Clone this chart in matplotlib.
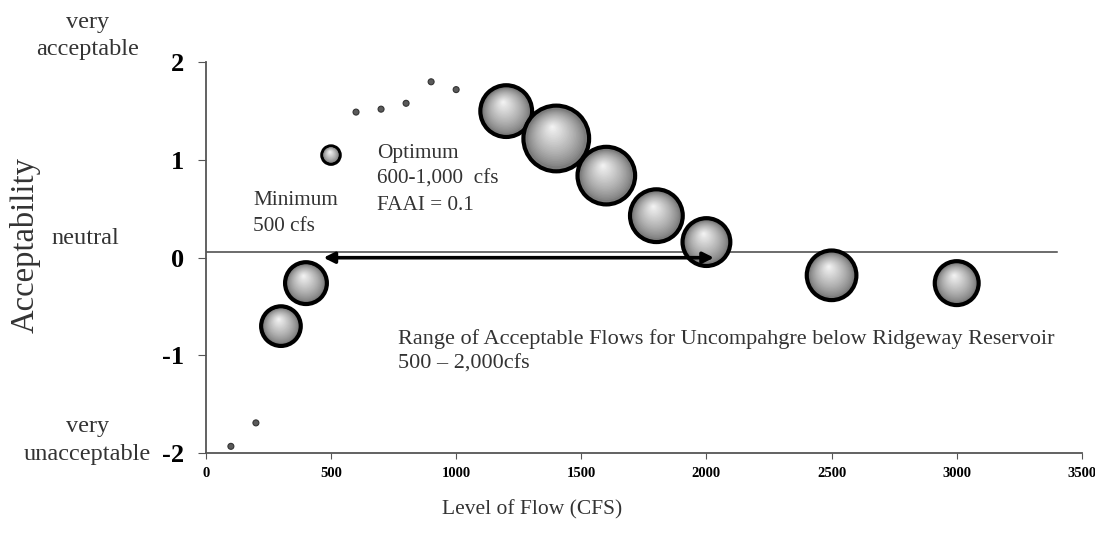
import numpy as np
import matplotlib
matplotlib.use("Agg")
import matplotlib.pyplot as plt
from matplotlib.colors import to_rgb

plt.rcParams['font.family'] = ['Liberation Serif', 'DejaVu Serif']
plt.rcParams['axes.unicode_minus'] = False

# flow levels (cfs), mean acceptability and bubble weight (number of responses)
flow = [100, 200, 300, 400, 500, 600, 700, 800, 900, 1000, 1200, 1400, 1600, 1800, 2000, 2500, 3000]
acceptability = [-1.93, -1.69, -0.70, -0.26, 1.05, 1.49, 1.52, 1.58, 1.80, 1.72,
                 1.50, 1.22, 0.84, 0.43, 0.16, -0.18, -0.26]
weight = [1, 1, 44, 49, 9, 1, 1, 1, 1, 1, 75, 121, 93, 78, 64, 69, 54]

x_ticks = [0, 500, 1000, 1500, 2000, 2500, 3000, 3500]
y_ticks = [-2, -1, 0, 1, 2]

fig, ax = plt.subplots(figsize=(10.95, 5.46), dpi=100)
fig.subplots_adjust(left=0.188, right=0.988, bottom=0.170, top=0.886)
ax.set_xlim(0, 3500)
ax.set_ylim(-2, 2)

x = np.array(flow, dtype=float)
y = np.array(acceptability)
w = np.array(weight, dtype=float)
sizes = w * 18.5
big = w > 5
lws = np.where(w > 20, 3.0, np.where(big, 2.6, 0.8))
faces = np.where(big, '#7c7c7c', '#5a5a5a')
edges = np.where(big, 'black', '#333333')

# base spheres
ax.scatter(x, y, s=sizes, c=list(faces), edgecolors=list(edges), linewidths=lws, zorder=3)

# fake 3-D shading: shrinking lighter discs drifting to the highlight
px_x = ax.transData.transform((1, 0))[0] - ax.transData.transform((0, 0))[0]
px_y = ax.transData.transform((0, 1))[1] - ax.transData.transform((0, 0))[1]
r_px = np.sqrt(sizes) / 2 * fig.dpi / 72
dark = np.array(to_rgb('#7c7c7c'))
light = np.array(to_rgb('#f6f6f6'))
n_layers = 24
for i in range(1, n_layers):
    f = 1 - i / n_layers
    col = dark + (light - dark) * (1 - f) ** 0.8
    dx = -0.12 * r_px * (1 - f) / px_x
    dy = 0.36 * r_px * (1 - f) / px_y
    ax.scatter(x[big] + dx[big], y[big] + dy[big], s=sizes[big] * (0.9 * f) ** 2,
               color=col, linewidths=0, zorder=3.1 + i * 0.01)

# neutral line and acceptable range arrow
ax.plot([0, 3400], [0.06, 0.06], color='#444444', lw=1.1, zorder=2)
ax.annotate('', xy=(2030, 0), xytext=(470, 0),
            arrowprops=dict(arrowstyle='<|-|>', lw=2.6, color='black',
                            mutation_scale=16, shrinkA=0, shrinkB=0), zorder=5)

ax.text(188, 0.45, 'Minimum\n500 cfs', fontsize=15.3, ha='left', va='center',
        color='#333333', linespacing=1.5)
ax.text(684, 0.80, 'Optimum\n600-1,000  cfs\nFAAI = 0.1', fontsize=15.3, ha='left', va='center',
        color='#333333', linespacing=1.5)
ax.text(768, -0.96, 'Range of Acceptable Flows for Uncompahgre below Ridgeway Reservoir\n500 \u2013 2,000cfs',
        fontsize=16, ha='left', va='center', color='#333333', linespacing=1.4)

for side in ['top', 'right']:
    ax.spines[side].set_visible(False)
for side in ['left', 'bottom']:
    ax.spines[side].set_color('#555555')
    ax.spines[side].set_linewidth(1.3)

ax.set_xticks(x_ticks)
ax.set_yticks(y_ticks)
ax.tick_params(axis='x', direction='out', length=4, color='#555555', labelsize=10.5, pad=6)
ax.tick_params(axis='y', direction='out', length=6, color='#555555', labelsize=19, pad=10)
for lab in ax.get_xticklabels() + ax.get_yticklabels():
    lab.set_fontweight('bold')

fig.text(0.080, 0.934, 'very\nacceptable', fontsize=17.5, ha='center', va='center',
         color='#333333', linespacing=1.4)
fig.text(0.078, 0.564, 'neutral', fontsize=17.5, ha='center', va='center', color='#333333')
fig.text(0.080, 0.193, 'very\nunacceptable', fontsize=17.5, ha='center', va='center',
         color='#333333', linespacing=1.4)
fig.text(0.023, 0.551, 'Acceptability', fontsize=23.5, rotation=90, ha='center', va='center',
         color='#333333')
fig.text(0.486, 0.066, 'Level of Flow (CFS)', fontsize=15.5, ha='center', va='center',
         color='#333333')

fig.savefig('out.png', dpi=100)
